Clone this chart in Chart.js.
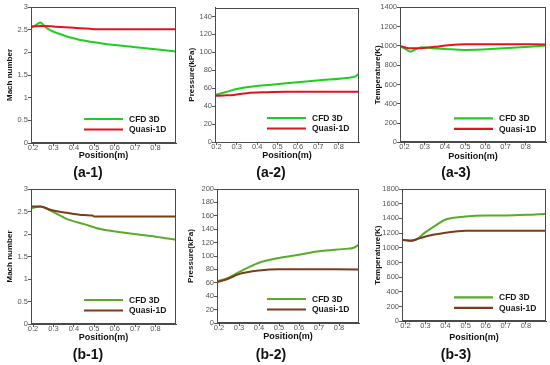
<!DOCTYPE html>
<html><head><meta charset="utf-8">
<script src="https://cdn.jsdelivr.net/npm/chart.js@4/dist/chart.umd.min.js"></script>
<style>
html,body{margin:0;padding:0;background:#fff;}
body{width:550px;height:365px;position:relative;overflow:hidden;}
canvas{position:absolute;}
</style></head><body>
<canvas id="a1" width="183" height="182" style="left:0;top:0"></canvas>
<canvas id="a2" width="183" height="182" style="left:183px;top:0"></canvas>
<canvas id="a3" width="184" height="182" style="left:366px;top:0"></canvas>
<canvas id="b1" width="183" height="183" style="left:0;top:182px"></canvas>
<canvas id="b2" width="183" height="183" style="left:183px;top:182px"></canvas>
<canvas id="b3" width="184" height="183" style="left:366px;top:182px"></canvas>
<script>
// ---------- tick labels ----------
const xTickValues = [0.2, 0.3, 0.4, 0.5, 0.6, 0.7, 0.8];
const xTickLabels = ['0.2', '0.3', '0.4', '0.5', '0.6', '0.7', '0.8'];
const machTicks = [0, 0.5, 1, 1.5, 2, 2.5, 3];
const pressureTicksA = [0, 20, 40, 60, 80, 100, 120, 140];
const pressureTicksB = [0, 20, 40, 60, 80, 100, 120, 140, 160, 180, 200];
const tempTicksA = [0, 200, 400, 600, 800, 1000, 1200, 1400];
const tempTicksB = [0, 200, 400, 600, 800, 1000, 1200, 1400, 1600, 1800];
const seriesNames = ['CFD 3D', 'Quasi-1D'];
const panelLabels = ['(a-1)', '(a-2)', '(a-3)', '(b-1)', '(b-2)', '(b-3)'];

// ---------- (a-1) Mach number ----------
const a1CfdX = [0.19, 0.21, 0.236, 0.26, 0.284, 0.32, 0.366, 0.40, 0.447, 0.53, 0.60, 0.69, 0.80, 0.90];
const a1CfdY = [2.54, 2.59, 2.66, 2.56, 2.49, 2.42, 2.35, 2.31, 2.26, 2.20, 2.16, 2.12, 2.07, 2.02];
const a1QuasiX = [0.19, 0.25, 0.30, 0.40, 0.48, 0.50, 0.90];
const a1QuasiY = [2.57, 2.58, 2.57, 2.54, 2.52, 2.51, 2.51];
// ---------- (a-2) Pressure ----------
const a2CfdX = [0.193, 0.25, 0.30, 0.367, 0.45, 0.53, 0.695, 0.86, 0.88, 0.90];
const a2CfdY = [52.3, 56, 59, 61.6, 63.5, 65.3, 68.7, 72, 73, 76];
const a2QuasiX = [0.193, 0.25, 0.285, 0.35, 0.45, 0.55, 0.90];
const a2QuasiY = [51.5, 52, 52.5, 54.5, 55.5, 56, 56];
// ---------- (a-3) Temperature ----------
const a3CfdX = [0.178, 0.20, 0.228, 0.25, 0.286, 0.335, 0.40, 0.50, 0.666, 0.80, 0.90];
const a3CfdY = [993, 975, 941, 960, 986, 976, 968, 958, 972, 988, 1003];
const a3QuasiX = [0.178, 0.20, 0.22, 0.286, 0.35, 0.42, 0.50, 0.70, 0.90];
const a3QuasiY = [1000, 985, 976, 976, 990, 1007, 1017, 1018, 1015];
// ---------- (b-1) Mach number ----------
const b1CfdX = [0.19, 0.236, 0.285, 0.367, 0.45, 0.53, 0.695, 0.80, 0.905];
const b1CfdY = [2.57, 2.61, 2.52, 2.33, 2.22, 2.11, 2.00, 1.94, 1.87];
const b1QuasiX = [0.19, 0.236, 0.285, 0.367, 0.45, 0.49, 0.50, 0.905];
const b1QuasiY = [2.61, 2.61, 2.54, 2.47, 2.42, 2.41, 2.39, 2.39];
// ---------- (b-2) Pressure ----------
const b2CfdX = [0.19, 0.236, 0.30, 0.40, 0.50, 0.60, 0.70, 0.845, 0.87, 0.90];
const b2CfdY = [62.5, 66, 76, 90, 97, 102, 107, 111, 112, 117];
const b2QuasiX = [0.19, 0.236, 0.30, 0.40, 0.50, 0.90];
const b2QuasiY = [61, 65, 73, 78.4, 80.4, 80];
// ---------- (b-3) Temperature ----------
const b3CfdX = [0.183, 0.228, 0.253, 0.30, 0.35, 0.40, 0.50, 0.60, 0.70, 0.80, 0.90];
const b3CfdY = [1108, 1100, 1113, 1213, 1303, 1385, 1425, 1439, 1440, 1448, 1463];
const b3QuasiX = [0.183, 0.228, 0.253, 0.30, 0.40, 0.50, 0.90];
const b3QuasiY = [1108, 1095, 1113, 1154, 1204, 1231, 1231];

// ---------- styling / layout ----------
const NARROW = "'Liberation Sans Narrow', 'Liberation Sans', Arial, sans-serif";
const WIDE = "'Liberation Sans', Arial, sans-serif";
const topColors = ['#1fcf1f', '#e0131f'];
const botColors = ['#5aab28', '#7b3b1d'];

function zip(xs, ys) { return xs.map((x, i) => ({x: x, y: ys[i]})); }

const panels = [
  {id:'a1', W:183, H:182, label:panelLabels[0], yTitle:'Mach number', xMin:0.19, yMax:3, yTicks:machTicks,
   cfd:[a1CfdX,a1CfdY], quasi:[a1QuasiX,a1QuasiY], colors:topColors, A:{l:31,r:176,t:7,b:143}, yTitleX:10, xTitleY:156, labelY:173},
  {id:'a2', W:183, H:182, label:panelLabels[1], yTitle:'Pressure(kPa)', xMin:0.193, yMax:150, yTicks:pressureTicksA,
   cfd:[a2CfdX,a2CfdY], quasi:[a2QuasiX,a2QuasiY], colors:topColors, A:{l:32,r:176,t:7.5,b:142}, yTitleX:9, xTitleY:156, labelY:173},
  {id:'a3', W:184, H:182, label:panelLabels[2], yTitle:'Temperature(K)', xMin:0.178, yMax:1400, yTicks:tempTicksA,
   cfd:[a3CfdX,a3CfdY], quasi:[a3QuasiX,a3QuasiY], colors:topColors, A:{l:34,r:180,t:7.3,b:142.3}, yTitleX:12, xTitleY:156.5, labelY:173},
  {id:'b1', W:183, H:183, label:panelLabels[3], yTitle:'Mach number', xMin:0.19, yMax:3, yTicks:machTicks,
   cfd:[b1CfdX,b1CfdY], quasi:[b1QuasiX,b1QuasiY], colors:botColors, A:{l:31,r:176,t:7,b:142}, yTitleX:9.5, xTitleY:155.5, labelY:173},
  {id:'b2', W:183, H:183, label:panelLabels[4], yTitle:'Pressure(kPa)', xMin:0.19, yMax:200, yTicks:pressureTicksB,
   cfd:[b2CfdX,b2CfdY], quasi:[b2QuasiX,b2QuasiY], colors:botColors, A:{l:34,r:176,t:7,b:141}, yTitleX:8, xTitleY:155, labelY:173},
  {id:'b3', W:184, H:183, label:panelLabels[5], yTitle:'Temperature(K)', xMin:0.183, yMax:1800, yTicks:tempTicksB,
   cfd:[b3CfdX,b3CfdY], quasi:[b3QuasiX,b3QuasiY], colors:botColors, A:{l:36,r:180,t:7,b:139.3}, yTitleX:12, xTitleY:155.5, labelY:173}
];

const boxPlugin = {
  id: 'frameBox',
  afterDatasetsDraw(chart) {
    const {ctx, chartArea: a} = chart;
    ctx.save();
    ctx.strokeStyle = '#4a4a4a';
    ctx.lineWidth = 1;
    ctx.strokeRect(Math.round(a.left) + 0.5, Math.round(a.top) + 0.5, Math.round(a.right - a.left) - 1, Math.round(a.bottom - a.top) - 1);
    ctx.restore();
  }
};

const insideLegend = {
  id: 'insideLegend',
  afterDraw(chart) {
    const {ctx, chartArea: a} = chart;
    chart.data.datasets.forEach((ds, i) => {
      const y = a.bottom - 24 + i * 10.5;
      ctx.save();
      ctx.strokeStyle = ds.borderColor;
      ctx.lineWidth = 2.2;
      ctx.beginPath();
      ctx.moveTo(a.right - 92, y);
      ctx.lineTo(a.right - 53, y);
      ctx.stroke();
      ctx.fillStyle = '#1a1a1a';
      ctx.font = 'bold 8.5px ' + NARROW;
      ctx.textBaseline = 'middle';
      ctx.textAlign = 'left';
      ctx.fillText(ds.label, a.right - 47, y + 0.5);
      ctx.restore();
    });
  }
};

panels.forEach(p => {
  const A = p.A;
  const labelLH = 14 * 1.2;
  const padBottom = p.H - p.labelY - labelLH / 2;
  const xScaleH = p.labelY - labelLH / 2 - A.b;
  const xTitlePad = (p.labelY - labelLH / 2) - p.xTitleY - 9 * 1.2 / 2;
  const yTitlePad = p.yTitleX - 8 * 1.2 / 2;
  new Chart(document.getElementById(p.id), {
    type: 'line',
    data: {
      datasets: [
        {label: seriesNames[0], data: zip(p.cfd[0], p.cfd[1]), borderColor: p.colors[0], borderWidth: 2,
         pointRadius: 0, fill: false, cubicInterpolationMode: 'monotone', order: 1},
        {label: seriesNames[1], data: zip(p.quasi[0], p.quasi[1]), borderColor: p.colors[1], borderWidth: 2,
         pointRadius: 0, fill: false, cubicInterpolationMode: 'monotone', order: 0}
      ]
    },
    options: {
      responsive: false, animation: false, devicePixelRatio: 1,
      events: [],
      layout: {padding: {left: 0, top: A.t, right: p.W - A.r, bottom: padBottom}},
      plugins: {
        legend: {display: false},
        tooltip: {enabled: false},
        title: {display: true, position: 'bottom', text: p.label, color: '#111', padding: 0,
                font: {family: NARROW, size: 14, weight: 'bold'}}
      },
      scales: {
        x: {
          type: 'linear', min: p.xMin, max: 0.9,
          afterBuildTicks: s => { s.ticks = xTickValues.map(v => ({value: v})); },
          afterFit: s => { s.height = xScaleH; },
          ticks: {callback: (v, i) => xTickLabels[i], color: '#555', padding: -3, maxRotation: 0, autoSkip: false,
                  font: {family: NARROW, size: 7.5}},
          grid: {display: true, drawOnChartArea: false, drawTicks: true, tickLength: 3, tickColor: '#555'},
          border: {display: true, color: '#4a4a4a', width: 1},
          title: {display: true, text: 'Position(m)', color: '#111', padding: {top: 0, bottom: xTitlePad},
                  font: {family: NARROW, size: 9, weight: 'bold'}}
        },
        y: {
          type: 'linear', min: 0, max: p.yMax,
          afterBuildTicks: s => { s.ticks = p.yTicks.map(v => ({value: v})); },
          afterFit: s => { s.width = A.l; },
          ticks: {callback: v => String(v), color: '#555', padding: 0, autoSkip: false,
                  font: {family: NARROW, size: 7.5}},
          grid: {display: true, drawOnChartArea: false, drawTicks: true, tickLength: 3, tickColor: '#555'},
          border: {display: true, color: '#4a4a4a', width: 1},
          title: {display: true, text: p.yTitle, color: '#111', padding: {top: yTitlePad, bottom: 0},
                  font: {family: WIDE, size: 8, weight: 'bold'}}
        }
      }
    },
    plugins: [boxPlugin, insideLegend]
  });
});
</script>
</body></html>
